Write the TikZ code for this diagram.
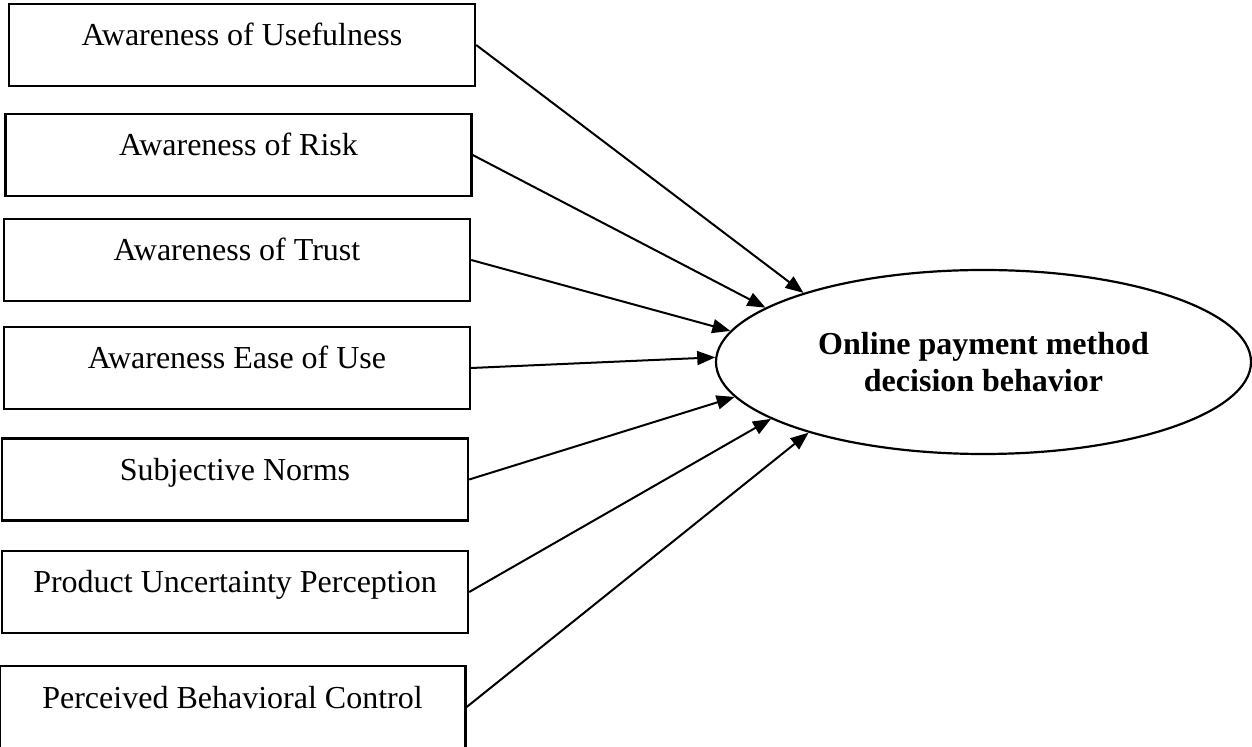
\documentclass[tikz,border=0pt]{standalone}
\usepackage{fontspec}
\setmainfont{Liberation Serif}
\usetikzlibrary{arrows.meta, shapes.geometric}

\begin{document}
\begin{tikzpicture}[
    x=0.5pt, y=-0.5pt,
    factor/.style={rectangle, draw, line width=1.2pt, minimum width=233pt, minimum height=41pt, text height=8pt, text depth=7pt, inner sep=0pt, font=\fontsize{16}{19}\selectfont},
    outcome/.style={ellipse, draw, line width=1.1pt, minimum width=267.5pt, minimum height=92pt, inner sep=0pt, align=center, font=\fontsize{16}{18.5}\selectfont\bfseries},
    link/.style={-{Triangle[length=9pt, width=7pt]}, line width=1pt}
  ]
    \useasboundingbox (0,0) rectangle (1252,747);

    \node[factor] (useful) at (242,45) {Awareness of Usefulness};
    \node[factor] (risk) at (238.5,155) {Awareness of Risk};
    \node[factor] (trust) at (237,260) {Awareness of Trust};
    \node[factor] (ease) at (237,368) {Awareness Ease of Use};
    \node[factor] (norms) at (235,479.5) {Subjective Norms};
    \node[factor] (uncert) at (235,592) {Product Uncertainty Perception};
    \node[factor] (control) at (232.5,707) {Perceived Behavioral Control};

    \node[outcome] (decision) at (983.5,362) {Online payment method\\decision behavior};

    \draw[link] (useful.east) -- (decision.159);
    \draw[link] (risk.east) -- (decision.166);
    \draw[link] (trust.east) -- (decision.173);
    \draw[link] (ease.east) -- (decision.179);
    \draw[link] (norms.east) -- (decision.188);
    \draw[link] (uncert.east) -- (decision.195);
    \draw[link] (control.east) -- (decision.202);
  \end{tikzpicture}
\end{document}
